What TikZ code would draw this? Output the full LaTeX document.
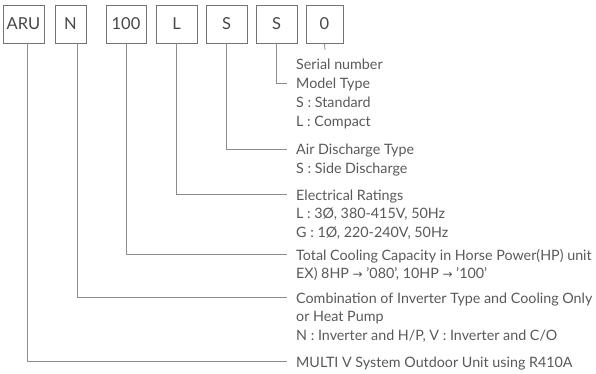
\documentclass[tikz,border=0pt]{standalone}
\usepackage{fontspec}
\setmainfont{Lato}
\newfontfamily\arrowfont{DejaVu Sans}
\newcommand{\rarr}{{\arrowfont\fontsize{12}{12}\selectfont →}}
\begin{document}
\begin{tikzpicture}[x=1pt,y=-1pt,
  box/.style={draw=black!55, line width=0.8pt, minimum height=38pt, inner sep=0pt, text=black!72, font=\fontsize{16.5}{16.5}\selectfont},
  conn/.style={draw=black!45, line width=0.8pt},
  txt/.style={anchor=base west, inner sep=0pt, text=black!65, font=\fontsize{14.3}{18.6}\selectfont}]
\useasboundingbox (0,0) rectangle (596,374);
\node[box, minimum width=41pt] (aru) at (23.5,24) {ARU};
\node[box, minimum width=31pt] (n) at (70.5,24) {N};
\node[box, minimum width=40pt] (hp) at (126,24) {100};
\node[box, minimum width=41pt] (l) at (176.5,24) {L};
\node[box, minimum width=41pt] (s1) at (226.5,24) {S};
\node[box, minimum width=41pt] (s2) at (276.5,24) {S};
\node[box, minimum width=37pt] (z) at (324.5,24) {0};

\coordinate (e0) at (325,50);
\coordinate (e1) at (287,83);
\coordinate (e2) at (287,149);
\coordinate (e3) at (287,194);
\coordinate (e4) at (287,254);
\coordinate (e5) at (287,297);
\coordinate (e6) at (287,361);

\node[txt] (t0) at (296,70) {Serial number};
\node[txt] (t1) at (296,89) {\begin{tabular}[t]{@{}l@{}}Model Type\\ S : Standard\\ L : Compact\end{tabular}};
\node[txt] (t2) at (296,155) {\begin{tabular}[t]{@{}l@{}}Air Discharge Type\\ S : Side Discharge\end{tabular}};
\node[txt] (t3) at (296,200) {\begin{tabular}[t]{@{}l@{}}Electrical Ratings\\ L : 3Ø, 380-415V, 50Hz\\ G : 1Ø, 220-240V, 50Hz\end{tabular}};
\node[txt] (t4) at (296,260) {\begin{tabular}[t]{@{}l@{}}Total Cooling Capacity in Horse Power(HP) unit\\ EX) 8HP \rarr\ '080', 10HP \rarr\ '100'\end{tabular}};
\node[txt] (t5) at (296,303) {\begin{tabular}[t]{@{}l@{}}Combination of Inverter Type and Cooling Only\\ or Heat Pump\\ N : Inverter and H/P, V : Inverter and C/O\end{tabular}};
\node[txt] (t6) at (296,367) {MULTI V System Outdoor Unit using R410A};

\draw[conn] (z.south) -- (e0);
\draw[conn] (s2.south) |- (e1);
\draw[conn] (s1.south) |- (e2);
\draw[conn] (l.south) |- (e3);
\draw[conn] (hp.south) |- (e4);
\draw[conn] ([xshift=6.5pt]n.south) |- (e5);
\draw[conn] ([xshift=3.5pt]aru.south) |- (e6);
\end{tikzpicture}
\end{document}
